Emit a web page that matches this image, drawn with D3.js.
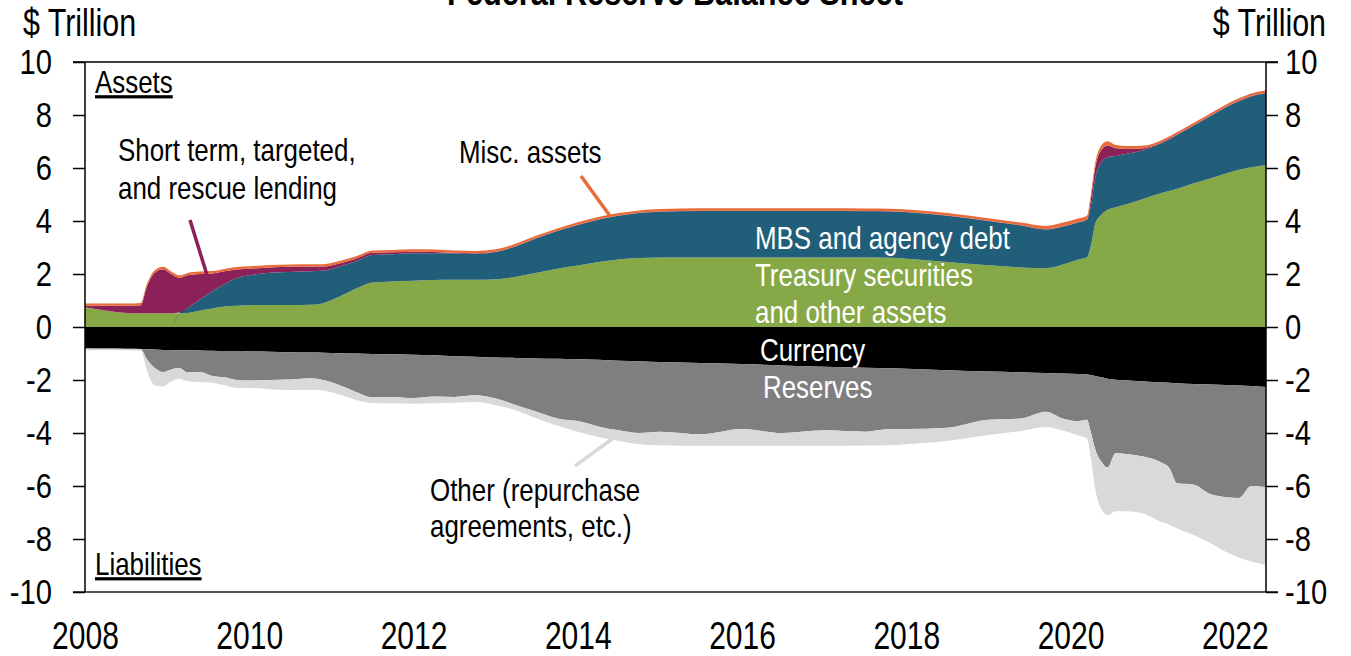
<!DOCTYPE html>
<html>
<head>
<meta charset="utf-8">
<script src="https://cdn.jsdelivr.net/npm/d3@7"></script>
<style>
  body { margin: 0; background: #fff; }
  svg text { font-family: "Liberation Sans", Arial, sans-serif; }
</style>
</head>
<body>
<div id="chart"></div>
<script>
// Dates as decimal years
const dates = [2008.0, 2008.25, 2008.5, 2008.68, 2008.75, 2008.85, 2008.95, 2009.05, 2009.15, 2009.25,
  2009.4, 2009.55, 2009.7, 2009.85, 2010.0, 2010.25, 2010.5, 2010.75, 2010.9, 2011.1,
  2011.3, 2011.5, 2011.75, 2012.0, 2012.25, 2012.5, 2012.75, 2013.0, 2013.25, 2013.5,
  2013.75, 2014.0, 2014.25, 2014.5, 2014.75, 2015.0, 2015.5, 2016.0, 2016.5, 2017.0,
  2017.5, 2017.8, 2018.0, 2018.5, 2019.0, 2019.4, 2019.7, 2019.9, 2020.1, 2020.2,
  2020.25, 2020.3, 2020.38, 2020.45, 2020.55, 2020.7, 2020.9, 2021.1, 2021.2, 2021.3,
  2021.5, 2021.7, 2021.9, 2022.05, 2022.2, 2022.38];

// Assets ($ trillion)
const treasury = [0.75, 0.62, 0.53, 0.52, 0.52, 0.52, 0.52, 0.52, 0.52, 0.53,
  0.62, 0.70, 0.77, 0.80, 0.82, 0.83, 0.83, 0.84, 0.90, 1.15,
  1.45, 1.68, 1.72, 1.75, 1.77, 1.78, 1.78, 1.80, 1.90, 2.05,
  2.20, 2.32, 2.45, 2.55, 2.60, 2.62, 2.62, 2.62, 2.62, 2.62,
  2.62, 2.61, 2.58, 2.45, 2.33, 2.25, 2.22, 2.35, 2.55, 2.63,
  3.10, 3.90, 4.25, 4.42, 4.52, 4.65, 4.85, 5.05, 5.13, 5.22,
  5.42, 5.60, 5.80, 5.93, 6.03, 6.10];
const mbs = [0, 0, 0, 0, 0, 0, 0, 0, 0.03, 0.19,
  0.43, 0.65, 0.85, 1.05, 1.13, 1.22, 1.25, 1.26, 1.22, 1.13,
  1.03, 1.04, 1.03, 1.03, 1.01, 0.99, 0.98, 1.03, 1.15, 1.30,
  1.42, 1.53, 1.60, 1.65, 1.70, 1.73, 1.76, 1.76, 1.76, 1.76,
  1.75, 1.75, 1.75, 1.75, 1.67, 1.58, 1.46, 1.43, 1.40, 1.42,
  1.50, 1.70, 2.00, 1.98, 1.93, 1.90, 1.83, 1.87, 1.95, 2.03,
  2.18, 2.35, 2.50, 2.59, 2.67, 2.72];
const lending = [0.05, 0.18, 0.27, 0.30, 0.98, 1.53, 1.66, 1.48, 1.30, 1.23,
  0.95, 0.67, 0.48, 0.32, 0.25, 0.20, 0.19, 0.18, 0.16, 0.12,
  0.10, 0.08, 0.07, 0.06, 0.05, 0.03, 0.02, 0.01, 0.01, 0.01,
  0.01, 0.01, 0.01, 0.01, 0.01, 0.01, 0.01, 0.01, 0.01, 0.01,
  0.01, 0.01, 0.01, 0.01, 0.01, 0.01, 0.01, 0.01, 0.01, 0.01,
  0.30, 0.40, 0.45, 0.45, 0.30, 0.17, 0.07, 0.03, 0.02, 0.02,
  0.02, 0.02, 0.02, 0.02, 0.02, 0.02];
const misc = [0.09, 0.09, 0.09, 0.09, 0.09, 0.09, 0.09, 0.09, 0.09, 0.09,
  0.09, 0.09, 0.09, 0.09, 0.09, 0.09, 0.09, 0.09, 0.09, 0.09,
  0.09, 0.09, 0.09, 0.09, 0.09, 0.09, 0.09, 0.09, 0.09, 0.09,
  0.09, 0.09, 0.09, 0.09, 0.09, 0.09, 0.09, 0.09, 0.09, 0.09,
  0.09, 0.09, 0.09, 0.09, 0.09, 0.10, 0.12, 0.14, 0.14, 0.14,
  0.17, 0.17, 0.17, 0.16, 0.12, 0.11, 0.10, 0.09, 0.09, 0.09,
  0.09, 0.09, 0.09, 0.09, 0.09, 0.09];

// Liabilities ($ trillion, drawn below zero)
const currency = [0.80, 0.81, 0.82, 0.83, 0.84, 0.85, 0.87, 0.87, 0.88, 0.88,
  0.89, 0.90, 0.91, 0.91, 0.92, 0.93, 0.95, 0.96, 0.97, 0.99,
  1.00, 1.02, 1.03, 1.05, 1.07, 1.10, 1.12, 1.15, 1.17, 1.19,
  1.20, 1.22, 1.24, 1.27, 1.29, 1.32, 1.36, 1.40, 1.45, 1.50,
  1.54, 1.56, 1.58, 1.63, 1.68, 1.71, 1.74, 1.75, 1.77, 1.79,
  1.81, 1.85, 1.90, 1.95, 1.99, 2.02, 2.06, 2.09, 2.10, 2.12,
  2.15, 2.17, 2.19, 2.21, 2.23, 2.26];
const reserves = [0.02, 0.01, 0.01, 0.01, 0.36, 0.70, 0.83, 0.73, 0.67, 0.84,
  0.81, 0.95, 0.99, 1.09, 1.10, 1.07, 1.03, 0.97, 1.03, 1.21,
  1.45, 1.63, 1.62, 1.63, 1.55, 1.54, 1.46, 1.55, 1.78, 2.01,
  2.25, 2.33, 2.51, 2.63, 2.71, 2.63, 2.69, 2.45, 2.55, 2.40,
  2.41, 2.29, 2.27, 2.17, 1.82, 1.74, 1.46, 1.70, 1.78, 1.71,
  2.19, 2.75, 3.20, 3.35, 2.76, 2.78, 2.84, 3.01, 3.20, 3.78,
  3.80, 4.13, 4.23, 4.24, 3.77, 3.79];
const other = [0.06, 0.06, 0.05, 0.06, 0.40, 0.65, 0.55, 0.45, 0.40, 0.33,
  0.38, 0.25, 0.30, 0.30, 0.28, 0.35, 0.40, 0.44, 0.40, 0.35,
  0.30, 0.22, 0.23, 0.22, 0.26, 0.22, 0.25, 0.25, 0.20, 0.25,
  0.27, 0.40, 0.40, 0.40, 0.42, 0.51, 0.43, 0.63, 0.48, 0.58,
  0.52, 0.61, 0.57, 0.50, 0.58, 0.47, 0.57, 0.45, 0.55, 0.70,
  1.00, 1.50, 1.80, 1.80, 2.20, 2.15, 2.15, 2.25, 2.15, 1.70,
  1.90, 1.85, 2.08, 2.25, 2.85, 2.93];

const yearTicks = [2008, 2010, 2012, 2014, 2016, 2018, 2020, 2022];
const valueTicks = [-10, -8, -6, -4, -2, 0, 2, 4, 6, 8, 10];

const keys = ["treasury", "mbs", "lending", "misc", "currency", "reserves", "other"];
const colors = {
  treasury: "#87a846",
  mbs: "#215e7a",
  lending: "#8c2058",
  misc: "#e86b3a",
  currency: "#000000",
  reserves: "#7f7f7f",
  other: "#d9d9d9"
};

// table for the stack: liabilities are negative
const rows = dates.map((d, i) => ({
  date: d,
  treasury: treasury[i], mbs: mbs[i], lending: lending[i], misc: misc[i],
  currency: -currency[i], reserves: -reserves[i], other: -other[i]
}));

const width = 1351, height = 656;
const plotLeft = 85, plotRight = 1266, plotTop = 62, plotBottom = 592;
const squeeze = 0.81; // narrow look of the original font

const svg = d3.select("#chart").append("svg")
  .attr("width", width)
  .attr("height", height);

const x = d3.scaleLinear().domain([2008, 2022.38]).range([plotLeft, plotRight]);
const y = d3.scaleLinear().domain([-10, 10]).range([plotBottom, plotTop]);

const series = d3.stack().keys(keys).offset(d3.stackOffsetDiverging)(rows);

const area = d3.area()
  .x(d => x(d.data.date))
  .y0(d => y(d[0]))
  .y1(d => y(d[1]))
  .curve(d3.curveMonotoneX);

svg.append("g").selectAll("path")
  .data(series)
  .join("path")
  .attr("d", area)
  .attr("fill", d => colors[d.key]);

// frame lines
svg.append("line").attr("x1", 73).attr("x2", 1278).attr("y1", y(10)).attr("y2", y(10))
  .attr("stroke", "#000").attr("stroke-width", 1.5);
svg.append("line").attr("x1", 73).attr("x2", 1278).attr("y1", y(-10)).attr("y2", y(-10))
  .attr("stroke", "#555").attr("stroke-width", 2);

// left and right value axes
const fmt = d => String(d);
const leftAxis = d3.axisLeft(y).tickValues(valueTicks).tickFormat(fmt).tickSize(12).tickPadding(21);
const rightAxis = d3.axisRight(y).tickValues(valueTicks).tickFormat(fmt).tickSize(12).tickPadding(7);

function narrowTicks(g) {
  g.select(".domain").remove();
  g.selectAll(".tick line").attr("stroke", "#000").attr("stroke-width", 1.5);
  g.selectAll(".tick text")
    .attr("font-size", 36).attr("fill", "#000")
    .attr("x", function() { return +d3.select(this).attr("x") / squeeze; })
    .attr("transform", `scale(${squeeze},1)`);
}

svg.append("g").attr("transform", `translate(${plotLeft},0)`).call(leftAxis).call(narrowTicks);
svg.append("g").attr("transform", `translate(${plotRight},0)`).call(rightAxis).call(narrowTicks);
svg.append("line").attr("x1", plotLeft).attr("x2", plotLeft).attr("y1", plotTop).attr("y2", plotBottom)
  .attr("stroke", "#000").attr("stroke-width", 1.5);
svg.append("line").attr("x1", plotRight).attr("x2", plotRight).attr("y1", plotTop).attr("y2", plotBottom)
  .attr("stroke", "#000").attr("stroke-width", 1.5);

// year axis
const xAxis = d3.axisBottom(x).tickValues(yearTicks).tickFormat(fmt).tickSize(0).tickPadding(0);
svg.append("g").attr("transform", `translate(0,${plotBottom})`).call(xAxis)
  .call(g => g.select(".domain").remove())
  .selectAll("text")
  .attr("y", 0).attr("dy", 0)
  .attr("transform", `translate(0,57) scale(0.79,1)`)
  .attr("font-size", 38).attr("fill", "#000");

// helper for squeezed free text
function label(px, py, lines, size, opts = {}) {
  const t = svg.append("text")
    .attr("transform", `translate(${px},${py}) scale(${opts.sx || squeeze},1)`)
    .attr("font-size", size)
    .attr("fill", opts.fill || "#000")
    .attr("text-anchor", opts.anchor || "start");
  if (opts.bold) t.attr("font-weight", "bold");
  if (opts.underline) t.attr("text-decoration", "underline");
  lines.forEach((l, i) => {
    t.append("tspan").attr("x", 0).attr("y", i * (opts.lh || 38)).text(l);
  });
  return t;
}

// unit labels and title
label(23, 36, ["$ Trillion"], 38, { sx: 0.8 });
label(1326, 36, ["$ Trillion"], 38, { sx: 0.8, anchor: "end" });
label(675, 5, ["Federal Reserve Balance Sheet"], 37, { bold: true, anchor: "middle", sx: 0.83 });

// section labels
label(95, 93, ["Assets"], 32, { underline: true });
label(95, 575, ["Liabilities"], 32, { underline: true });

// annotations
label(118, 161, ["Short term, targeted,", "and rescue lending"], 32);
label(459, 163, ["Misc. assets"], 32);
label(755, 249, ["MBS and agency debt"], 32, { fill: "#fff" });
label(755, 286, ["Treasury securities", "and other assets"], 32, { fill: "#fff", lh: 37 });
label(760, 361, ["Currency"], 32, { fill: "#fff" });
label(763, 398, ["Reserves"], 32, { fill: "#fff" });
label(430, 501, ["Other (repurchase", "agreements, etc.)"], 32, { lh: 36 });

// pointer lines
svg.append("line").attr("x1", 190).attr("y1", 220).attr("x2", 207).attr("y2", 275)
  .attr("stroke", colors.lending).attr("stroke-width", 3.5);
svg.append("line").attr("x1", 581).attr("y1", 176).attr("x2", 610).attr("y2", 216)
  .attr("stroke", colors.misc).attr("stroke-width", 3.5);
svg.append("line").attr("x1", 575).attr("y1", 466).attr("x2", 612).attr("y2", 439)
  .attr("stroke", colors.other).attr("stroke-width", 3.5);
</script>
</body>
</html>
